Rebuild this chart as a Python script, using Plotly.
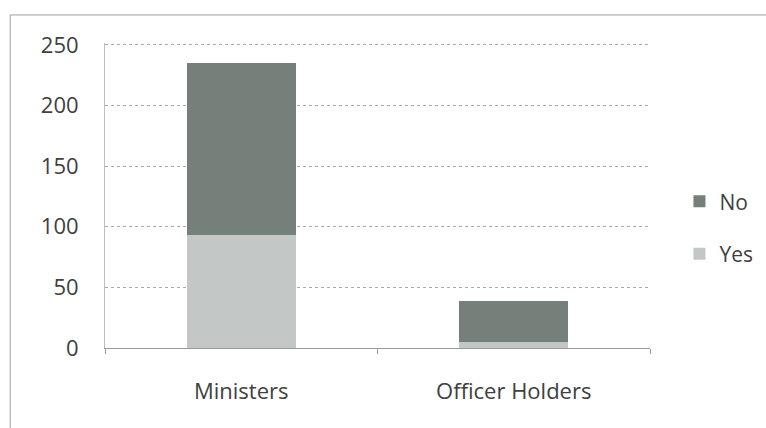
import plotly.graph_objects as go

categories = ["Ministers", "Officer Holders"]
yes_values = [93, 5]
no_values = [142, 34]
y_ticks = [0, 50, 100, 150, 200, 250]

fig = go.Figure()
fig.add_trace(go.Bar(
    x=categories, y=yes_values, name="Yes",
    marker=dict(color="#c3c7c5", line=dict(width=0)),
    legendgroup="yes", legendrank=2, width=0.4,
))
fig.add_trace(go.Bar(
    x=categories, y=no_values, name="No",
    marker=dict(color="#76807a", line=dict(width=0)),
    legendgroup="no", legendrank=1, width=0.4,
))

fig.update_layout(
    barmode="stack",
    width=766, height=428,
    margin=dict(l=105, r=116, t=43, b=80),
    paper_bgcolor="white", plot_bgcolor="white",
    font=dict(family="'Open Sans', sans-serif", color="#404040"),
    showlegend=True,
    legend=dict(
        xref="container", yref="container",
        x=0.887, y=0.468, xanchor="left", yanchor="middle",
        traceorder="grouped", tracegroupgap=22,
        font=dict(size=21, color="#404040"),
    ),
    xaxis=dict(
        type="category",
        showline=True, linecolor="#9a9a9a", linewidth=1,
        ticks="outside", tickson="boundaries", ticklen=5, tickcolor="#9a9a9a",
        tickfont=dict(size=22, color="#404040"),
        ticklabelstandoff=24,
        showgrid=False,
    ),
    yaxis=dict(
        range=[0, 251.6], tickvals=y_ticks,
        showline=True, linecolor="#bdbdbd", linewidth=1,
        showgrid=True, gridcolor="#ababab", griddash="dot", gridwidth=1,
        tickfont=dict(size=22, color="#404040"),
        ticks="", ticklen=0, ticklabelstandoff=21,
        zeroline=False,
    ),
    shapes=[dict(
        type="rect", xref="paper", yref="paper",
        x0=-0.174, x1=1.3, y0=-0.6, y1=1.092,
        line=dict(color="#9e9e9e", width=1),
    )],
)

fig.write_html("out.html")
